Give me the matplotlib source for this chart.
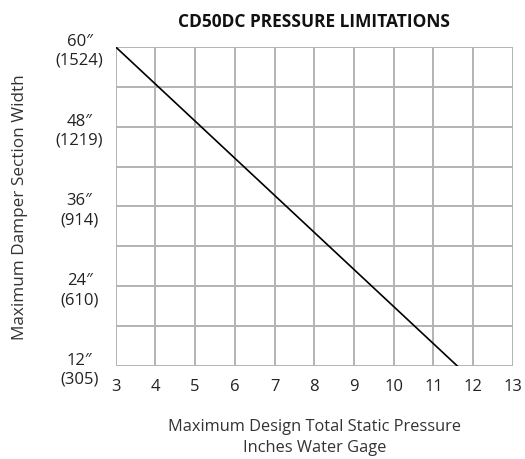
import matplotlib
matplotlib.use('Agg')
import matplotlib.pyplot as plt

plt.rcParams['font.family'] = ['Open Sans', 'DejaVu Sans']

# Data
pressure = [3, 11.6]          # in. w.g.
width = [60, 12]              # inches
x_ticks = list(range(3, 14))
y_ticks = [12, 24, 36, 48, 60]
y_tick_labels = ['12\u2033\n(305)', '24\u2033\n(610)', '36\u2033\n(914)',
                 '48\u2033\n(1219)', '60\u2033\n(1524)']
y_grid = list(range(12, 61, 6))

fig = plt.figure(figsize=(5.25, 4.6), dpi=100)
ax = fig.add_axes([0.2204, 0.2022, 0.7566, 0.6935])

grid_col = '#b3b3b3'
for x in x_ticks:
    ax.axvline(x, color=grid_col, lw=1.4, zorder=1)
for y in y_grid:
    ax.axhline(y, color=grid_col, lw=1.4, zorder=1)

ax.plot(pressure, width, color='black', lw=1.2, zorder=3)

ax.set_xlim(3, 13)
ax.set_ylim(12, 60)
ax.set_xticks(x_ticks)
ax.set_yticks(y_ticks)
ax.set_yticklabels(y_tick_labels, ha='center', linespacing=1.25)
ax.tick_params(axis='both', length=0, labelsize=12, colors='#222222')
ax.tick_params(axis='x', pad=9)
ax.tick_params(axis='y', pad=26)
for spine in ax.spines.values():
    spine.set_visible(False)

ax.set_title('CD50DC PRESSURE LIMITATIONS', fontsize=12.5, fontweight='bold',
             color='#111111', pad=15)
ax.set_xlabel('Maximum Design Total Static Pressure\nInches Water Gage',
              fontsize=11.8, color='#333333', labelpad=17, linespacing=1.4)
ax.set_ylabel('Maximum Damper Section Width', fontsize=12.3, color='#333333')
ax.yaxis.set_label_coords(-0.22, 0.5)

fig.savefig('out.png', dpi=100)
